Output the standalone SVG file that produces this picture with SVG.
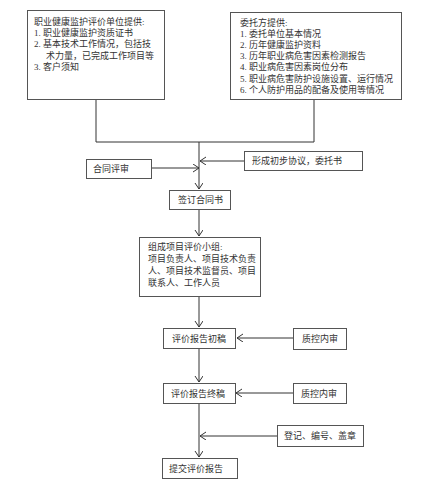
<svg xmlns="http://www.w3.org/2000/svg" width="440" height="488" viewBox="0 0 440 488">
<style>
.box{fill:#fff;stroke:#555;stroke-width:1}
.t{font-family:"Liberation Serif","Noto Sans CJK SC",serif;font-size:9px;fill:#333}
.c{fill:none;stroke:#333;stroke-width:1}
</style>
<defs>
<marker id="ah" markerUnits="userSpaceOnUse" markerWidth="10" markerHeight="10" refX="6" refY="4" orient="auto">
<path d="M0,0 L6,4 L0,8" fill="none" stroke="#333" stroke-width="1"/>
</marker>
</defs>
<rect width="440" height="488" fill="#fff"/>
<g id="connectors">
<path class="c" d="M96,100 V142 H314 V100"/>
<path class="c" d="M199,142 V189" marker-end="url(#ah)"/>
<path class="c" d="M244,161 H200" marker-end="url(#ah)"/>
<path class="c" d="M152,168 H199" marker-end="url(#ah)"/>
<path class="c" d="M199,209 V236" marker-end="url(#ah)"/>
<path class="c" d="M199,296 V327" marker-end="url(#ah)"/>
<path class="c" d="M293,338 H237" marker-end="url(#ah)"/>
<path class="c" d="M199,349 V382" marker-end="url(#ah)"/>
<path class="c" d="M293,393 H236" marker-end="url(#ah)"/>
<path class="c" d="M277,436 H200" marker-end="url(#ah)"/>
<path class="c" d="M199,404 V457" marker-end="url(#ah)"/>
</g>
<g id="n1">
<rect class="box" x="27.5" y="10.5" width="137" height="89"/>
<text class="t" x="34" y="24.5">职业健康监护评价单位提供:</text>
<text class="t" x="34" y="35.8">1. 职业健康监护资质证书</text>
<text class="t" x="34" y="47.4">2. 基本技术工作情况，包括技</text>
<text class="t" x="46" y="58.7">术力量，已完成工作项目等</text>
<text class="t" x="34" y="70">3. 客户须知</text>
</g>
<g id="n2">
<rect class="box" x="230.5" y="12.5" width="171" height="87"/>
<text class="t" x="240" y="26">委托方提供:</text>
<text class="t" x="240" y="37">1. 委托单位基本情况</text>
<text class="t" x="240" y="47.5">2. 历年健康监护资料</text>
<text class="t" x="240" y="58.8">3. 历年职业病危害因素检测报告</text>
<text class="t" x="240" y="70">4. 职业病危害因素岗位分布</text>
<text class="t" x="240" y="81.5">5. 职业病危害防护设施设置、运行情况</text>
<text class="t" x="240" y="93">6. 个人防护用品的配备及使用等情况</text>
</g>
<g id="n3">
<rect class="box" x="244.5" y="151.5" width="118" height="19"/>
<text class="t" x="252" y="164">形成初步协议，委托书</text>
</g>
<g id="n4">
<rect class="box" x="86.5" y="159.5" width="65" height="19"/>
<text class="t" x="93" y="172">合同评审</text>
</g>
<g id="n5">
<rect class="box" x="169.5" y="190.5" width="61" height="19"/>
<text class="t" x="178" y="203">签订合同书</text>
</g>
<g id="n6">
<rect class="box" x="139.5" y="237.5" width="121" height="59"/>
<text class="t" x="148" y="250">组成项目评价小组:</text>
<text class="t" x="148" y="262">项目负责人、项目技术负责</text>
<text class="t" x="148" y="274">人、项目技术监督员、项目</text>
<text class="t" x="148" y="286">联系人、工作人员</text>
</g>
<g id="n7">
<rect class="box" x="163.5" y="328.5" width="72" height="20"/>
<text class="t" x="172" y="341.5">评价报告初稿</text>
</g>
<g id="n8">
<rect class="box" x="293.5" y="328.5" width="53" height="21"/>
<text class="t" x="302" y="342">质控内审</text>
</g>
<g id="n9">
<rect class="box" x="163.5" y="383.5" width="72" height="20"/>
<text class="t" x="171" y="396.5">评价报告终稿</text>
</g>
<g id="n10">
<rect class="box" x="293.5" y="383.5" width="53" height="20"/>
<text class="t" x="301" y="396.5">质控内审</text>
</g>
<g id="n11">
<rect class="box" x="277.5" y="425.5" width="86" height="21"/>
<text class="t" x="284" y="439">登记、编号、盖章</text>
</g>
<g id="n12">
<rect class="box" x="162.5" y="458.5" width="75" height="20"/>
<text class="t" x="169" y="471.5">提交评价报告</text>
</g>
</svg>
